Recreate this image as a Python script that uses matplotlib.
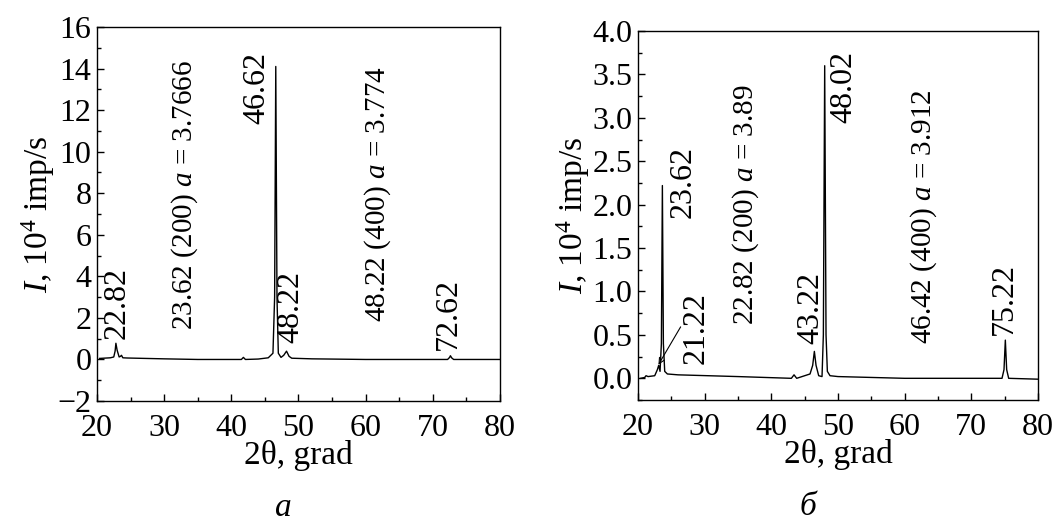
import matplotlib
matplotlib.use("Agg")
import matplotlib.pyplot as plt
from matplotlib.ticker import MultipleLocator

plt.rcParams['font.family'] = ['Liberation Serif', 'DejaVu Serif']
plt.rcParams['mathtext.fontset'] = 'custom'
plt.rcParams['mathtext.rm'] = 'Liberation Serif'
plt.rcParams['mathtext.it'] = 'Liberation Serif:italic'

# ---- Panel a data ----
xa = [20.4, 22.0, 22.5, 22.7, 22.82, 23.0, 23.3, 23.5, 23.65, 23.85, 24.5, 30, 35, 41.5, 41.8, 42.1,
      44, 45.5, 46.2, 46.45, 46.62, 46.8, 47.0, 47.4, 47.8, 48.22, 48.6, 49.0, 52, 60,
      72.2, 72.5, 72.62, 72.8, 73.1, 80]
ya = [0.05, 0.08, 0.12, 0.4, 0.78, 0.45, 0.12, 0.15, 0.2, 0.08, 0.07, 0.03, 0.0, 0.0, 0.1, 0.0,
      0.02, 0.08, 0.3, 3.0, 14.1, 3.0, 0.3, 0.1, 0.2, 0.4, 0.15, 0.06, 0.03, 0.0,
      0.0, 0.1, 0.18, 0.08, 0.0, 0.0]

# ---- Panel б data ----
xb = [20.4, 21.0, 21.2, 21.5, 22.5, 22.9, 23.1, 23.3, 23.5, 23.65, 23.8, 24.0, 24.4, 26, 35,
      43.0, 43.4, 43.8, 45.8, 46.2, 46.45, 46.7, 47.1, 47.6, 47.8, 48.0, 48.2, 48.4, 48.8, 50, 60,
      74.6, 74.9, 75.1, 75.3, 75.6, 80]
yb = [0.0, 0.01, 0.03, 0.02, 0.03, 0.1, 0.15, 0.08, 0.4, 2.22, 0.4, 0.08, 0.05, 0.04, 0.02,
      0.0, 0.04, 0.0, 0.05, 0.15, 0.31, 0.15, 0.03, 0.02, 0.5, 3.6, 0.5, 0.08, 0.03, 0.02, 0.0,
      0.0, 0.1, 0.44, 0.1, 0.0, -0.01]

# annotations: (text, x, y, long?)
ann_a = [("22.82", 23.0, 1.0, False),
         ("23.62 (200) $\\mathit{a}$ = 3.7666", 33.1, 1.4, True),
         ("46.62", 43.8, 11.35, False),
         ("48.22", 48.9, 0.8, False),
         ("48.22 (400) $\\mathit{a}$ = 3.774", 61.8, 1.8, True),
         ("72.62", 72.3, 0.45, False)]
ann_b = [("23.62", 26.75, 1.85, False),
         ("21.22", 28.7, 0.17, False),
         ("22.82 (200) $\\mathit{a}$ = 3.89", 36.2, 0.61, True),
         ("43.22", 45.95, 0.40, False),
         ("48.02", 50.9, 2.94, False),
         ("46.42 (400) $\\mathit{a}$ = 3.912", 62.9, 0.40, True),
         ("75.22", 74.9, 0.5, False)]

FS_TICK = 23
FS_LAB = 24
FS_SHORT = 23
FS_LONG = 21

fig = plt.figure(figsize=(10.62, 5.26), dpi=100)
axa = fig.add_axes([0.0913, 0.2376, 0.3795, 0.7111])
axb = fig.add_axes([0.6008, 0.2395, 0.3766, 0.7016])

def style(ax, ylim, ymaj, ymin, fmt):
    ax.set_xlim(20, 80)
    ax.set_ylim(*ylim)
    ax.xaxis.set_major_locator(MultipleLocator(10))
    ax.xaxis.set_minor_locator(MultipleLocator(5))
    ax.yaxis.set_major_locator(MultipleLocator(ymaj))
    ax.yaxis.set_minor_locator(MultipleLocator(ymin))
    ax.tick_params(which='both', direction='in', top=False, right=False, labelsize=FS_TICK)
    ax.tick_params(which='major', length=5, width=1, pad=4)
    ax.tick_params(which='minor', length=3, width=1)
    ax.tick_params(axis='x', pad=9)
    if fmt:
        ax.yaxis.set_major_formatter(plt.FormatStrFormatter(fmt))
    for s in ax.spines.values():
        s.set_linewidth(1)
    ax.set_xlabel("2θ, grad", fontsize=FS_LAB, labelpad=-2)
    ax.set_ylabel("$\\mathit{I}$, 10$^4$ imp/s", fontsize=FS_LAB, labelpad=0)

style(axa, (-2, 16), 2, 1, None)
style(axb, (-0.25, 4.0), 0.5, 0.25, '%.1f')

axa.plot(xa, ya, color='black', lw=1)
axb.plot(xb, yb, color='black', lw=1)

for ax, anns in ((axa, ann_a), (axb, ann_b)):
    for t, x, y, lng in anns:
        ax.text(x, y, t, rotation=90, ha='center', va='bottom',
                fontsize=FS_LONG if lng else FS_SHORT)

axb.annotate("", xy=(22.85, 0.13), xytext=(26.6, 0.62),
             arrowprops=dict(arrowstyle='->', color='black', lw=0.8))

fig.text(283 / 1062, 1 - 508 / 526, "а", fontsize=FS_LAB, style='italic', ha='center', va='center')
fig.text(808 / 1062, 1 - 507 / 526, "б", fontsize=FS_LAB, style='italic', ha='center', va='center')

fig.savefig("out.png", dpi=100)
